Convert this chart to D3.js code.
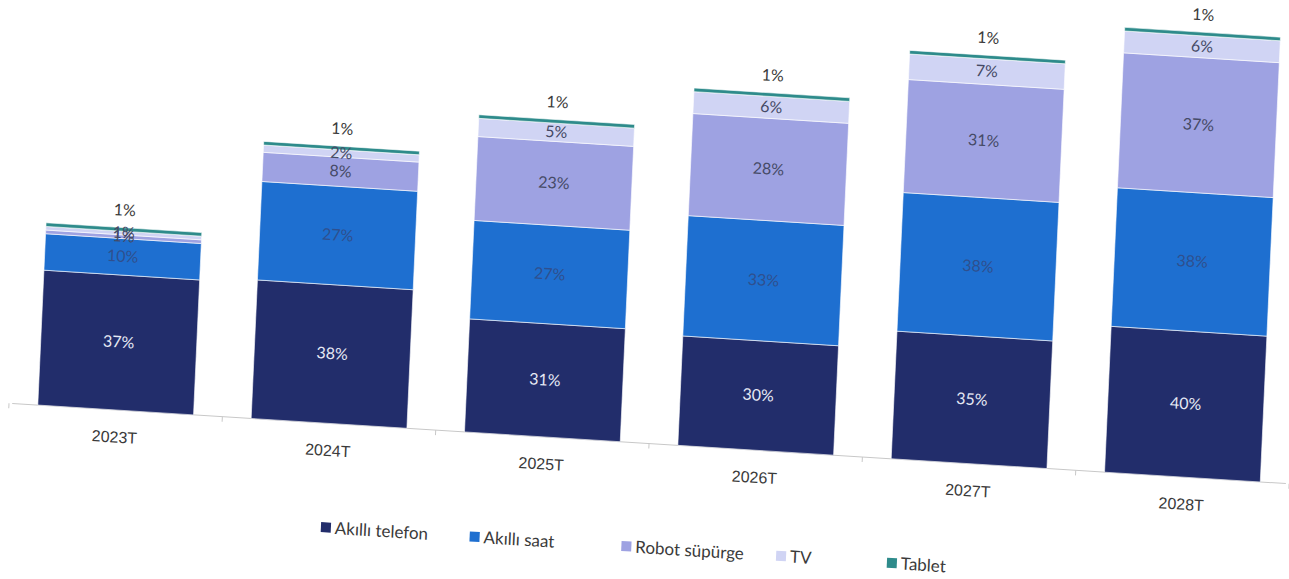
<!DOCTYPE html>
<html><head><meta charset="utf-8">
<script src="https://cdn.jsdelivr.net/npm/d3@7"></script>
<style>
html,body{margin:0;padding:0;background:#fff;}
svg{display:block;font-family:Lato,"Open Sans",sans-serif;}
</style></head>
<body>
<svg id="chart" width="1289" height="579"></svg>
<script>
const categories = ["2023T","2024T","2025T","2026T","2027T","2028T"];
const seriesNames = ["Akıllı telefon","Akıllı saat","Robot süpürge","TV","Tablet"];
const akilliTelefon = [37,38,31,30,35,40];
const akilliSaat    = [10,27,27,33,38,38];
const robotSupurge  = [1,8,23,28,31,37];
const tv            = [1,2,5,6,7,6];
const tablet        = [1,1,1,1,1,1];
const colors = ["#222d6b","#1e6fd0","#9ea2e2","#d0d4f4","#2e8b8b"];
const labelColors = ["#e6e9f4","#2f4f8e","#454a66","#454a66","#454a66"];

const seriesValues = [akilliTelefon, akilliSaat, robotSupurge, tv, tablet];
const rows = categories.map((c,i)=>{
  const r = {cat:c};
  seriesNames.forEach((s,j)=>r[s]=seriesValues[j][i]);
  return r;
});
const stack = d3.stack().keys(seriesNames)(rows);

const svg = d3.select("#chart");
const g = svg.append("g").attr("transform","translate(645,290) rotate(2.6) skewY(1) translate(-645,-290)");

const x = d3.scaleBand().domain(categories).range([18,1294]).paddingInner(0.27).paddingOuter(0.12);
const y = d3.scaleLinear().domain([0,100]).range([443,78]);

// axis
const axis = d3.axisBottom(x).tickSize(0).tickFormat(d=>d);
const ax = g.append("g").attr("transform","translate(0,443)").call(axis);
ax.select(".domain").attr("stroke","#c8c8c8").attr("stroke-width",1).attr("d","M18,0H1294");
ax.selectAll("text").attr("dy","1.85em").attr("font-size",16).attr("fill","#3a3a3a");
// category boundary ticks
const bounds = categories.map(c=>x(c)-x.step()*x.paddingInner()/2);
bounds.push(x(categories[categories.length-1])+x.bandwidth()+x.step()*x.paddingInner()/2);
ax.selectAll(".btick").data(bounds).enter().append("line")
  .attr("class","btick").attr("x1",d=>d).attr("x2",d=>d).attr("y1",0).attr("y2",5)
  .attr("stroke","#c8c8c8");

// bars
const layers = g.selectAll(".layer").data(stack).enter().append("g")
  .attr("fill",(d,i)=>colors[i]);
layers.selectAll("rect").data(d=>d).enter().append("rect")
  .attr("x",d=>x(d.data.cat))
  .attr("width",x.bandwidth())
  .attr("y",d=>y(d[1]))
  .attr("height",d=>y(d[0])-y(d[1]))
  .attr("stroke","#ffffff").attr("stroke-width",0.6);

// labels
stack.forEach((layer,i)=>{
  g.selectAll(".lab"+i).data(layer).enter().append("text")
    .attr("x",d=>x(d.data.cat)+x.bandwidth()/2)
    .attr("y",d=> i===4 ? y(d[1])-12 : (y(d[0])+y(d[1]))/2 + 5)
    .attr("text-anchor","middle")
    .attr("font-size",16)
    .attr("fill", i===4 ? "#3a3a3a" : labelColors[i])
    .text(d=>(d[1]-d[0])+"%");
});

// legend
const legendX = [337,486,638,793,904];
const leg = g.append("g");
seriesNames.forEach((s,i)=>{
  leg.append("rect").attr("x",legendX[i]-5).attr("y",542).attr("width",10).attr("height",10).attr("fill",colors[i]);
  leg.append("text").attr("x",legendX[i]+9).attr("y",553).attr("font-size",17).attr("fill","#3a3a3a").text(s);
});
</script>
</body></html>
